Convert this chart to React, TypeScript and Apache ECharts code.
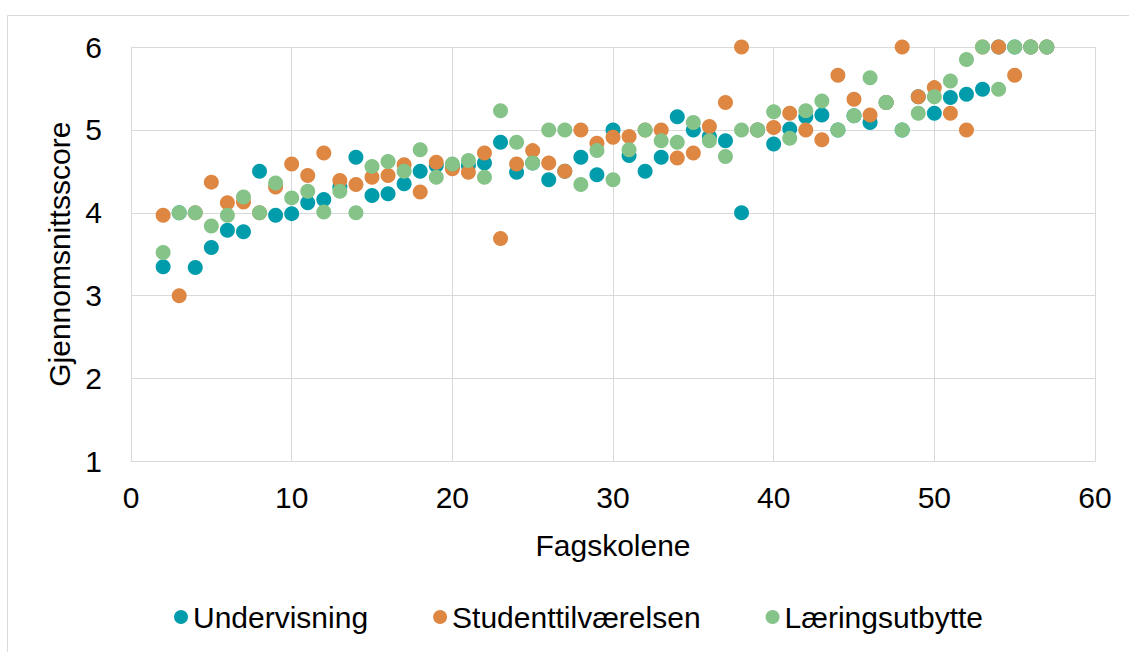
import React, { useEffect, useRef } from "react";
import * as echarts from "echarts";

const schools = [2,3,4,5,6,7,8,9,10,11,12,13,14,15,16,17,18,19,20,21,22,23,24,25,26,27,28,29,30,31,32,33,34,35,36,37,38,39,40,41,42,43,44,45,46,47,48,49,50,51,52,53,54,55,56,57];

const undervisning = [3.35,4.0,3.34,3.58,3.79,3.77,4.5,3.97,3.99,4.12,4.16,4.31,4.67,4.21,4.23,4.35,4.5,4.57,4.56,4.57,4.6,4.85,4.49,4.6,4.4,4.5,4.67,4.46,5.0,4.69,4.5,4.67,5.16,5.0,4.92,4.87,4.0,5.0,4.83,5.01,5.16,5.18,5.0,5.17,5.09,5.33,5.0,5.4,5.2,5.39,5.43,5.49,6.0,6.0,6.0,6.0];

const studenttilvaerelsen = [3.97,3.0,4.0,4.37,4.12,4.13,4.0,4.31,4.59,4.45,4.72,4.39,4.34,4.43,4.45,4.58,4.25,4.61,4.53,4.49,4.72,3.69,4.59,4.75,4.6,4.5,5.0,4.84,4.91,4.92,5.0,5.0,4.66,4.72,5.04,5.33,6.0,5.0,5.03,5.2,5.0,4.88,5.66,5.37,5.18,5.33,6.0,5.4,5.51,5.2,5.0,6.0,6.0,5.66,6.0,6.0];

const laeringsutbytte = [3.52,4.0,4.0,3.84,3.97,4.19,4.0,4.36,4.18,4.26,4.01,4.26,4.0,4.56,4.62,4.5,4.76,4.43,4.59,4.63,4.43,5.23,4.85,4.6,5.0,5.0,4.34,4.75,4.4,4.76,5.0,4.87,4.85,5.09,4.87,4.68,5.0,5.0,5.22,4.9,5.23,5.35,5.0,5.17,5.63,5.33,5.0,5.2,5.4,5.59,5.85,6.0,5.49,6.0,6.0,6.0];

const seriesNames = ["Undervisning", "Studenttilværelsen", "Læringsutbytte"];
const colors = ["#009CAB", "#DE8742", "#85C389"];

const FONT = "'Liberation Sans', Arial, sans-serif";
const FS = 30;

export default function App() {
  const ref = useRef<HTMLDivElement>(null);
  useEffect(() => {
    if (!ref.current) return;
    const chart = echarts.init(ref.current, null, { renderer: "svg" });
    const all = [undervisning, studenttilvaerelsen, laeringsutbytte];
    chart.setOption({
      animation: false,
      backgroundColor: "#ffffff",
      textStyle: { fontFamily: FONT },
      graphic: [
        {
          type: "rect",
          shape: { x: 7.5, y: 15.5, width: 1200, height: 700 },
          style: { fill: "none", stroke: "#D9D9D9", lineWidth: 1 },
          silent: true,
        },
      ],
      grid: { left: 131, right: 34, top: 47, bottom: 190.5, containLabel: false },
      legend: {
        top: 597,
        left: 169,
        icon: "circle",
        itemWidth: 14,
        itemHeight: 14,
        itemGap: 65,
        textStyle: { fontSize: FS, color: "#000", fontFamily: FONT },
        data: seriesNames,
      },
      xAxis: {
        type: "value",
        min: 0,
        max: 60,
        interval: 10,
        name: "Fagskolene",
        nameLocation: "middle",
        nameGap: 69,
        nameTextStyle: { fontSize: FS, color: "#000", fontFamily: FONT },
        axisLine: { show: true, lineStyle: { color: "#D9D9D9" } },
        axisTick: { show: false },
        axisLabel: { fontSize: FS, color: "#000", margin: 21, fontFamily: FONT },
        splitLine: { show: true, lineStyle: { color: "#D9D9D9", width: 1 } },
      },
      yAxis: {
        type: "value",
        min: 1,
        max: 6,
        interval: 1,
        name: "Gjennomsnittsscore",
        nameLocation: "middle",
        nameGap: 54,
        nameTextStyle: { fontSize: FS, color: "#000", fontFamily: FONT },
        axisLine: { show: false },
        axisTick: { show: false },
        axisLabel: { fontSize: FS, color: "#000", margin: 29, fontFamily: FONT },
        splitLine: { show: true, lineStyle: { color: "#D9D9D9", width: 1 } },
      },
      series: seriesNames.map((name, i) => ({
        name,
        type: "scatter",
        symbol: "circle",
        symbolSize: 15,
        itemStyle: { color: colors[i], opacity: 1 },
        data: schools.map((x, j) => [x, all[i][j]]),
      })),
    });
    return () => chart.dispose();
  }, []);
  return (
    <div
      ref={ref}
      style={{ position: "fixed", left: 0, top: 0, width: 1129, height: 652 }}
    />
  );
}
